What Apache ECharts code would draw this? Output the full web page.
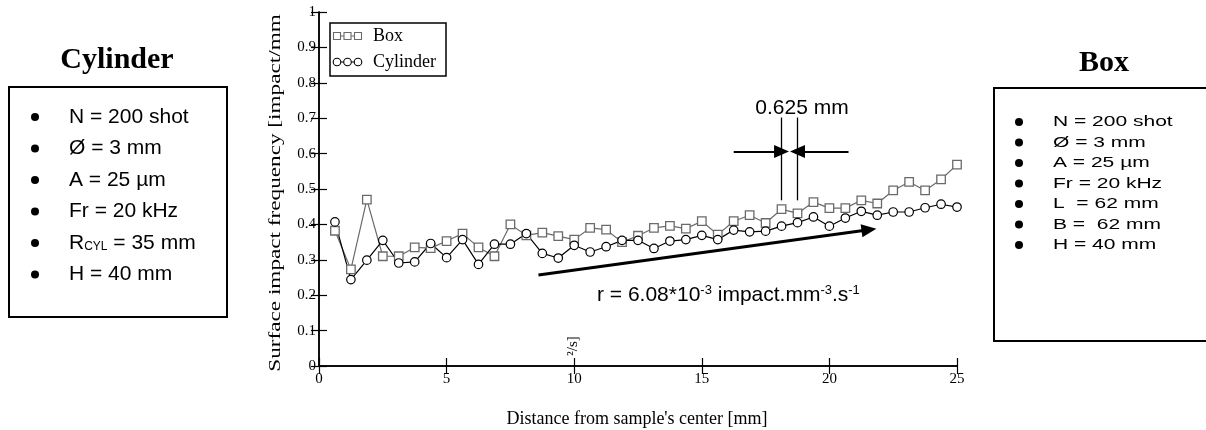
<!DOCTYPE html>
<html>
<head>
<meta charset="utf-8">
<script src="https://cdn.jsdelivr.net/npm/echarts@6/dist/echarts.min.js"></script>
<style>
  html, body { margin: 0; padding: 0; background: #fff; }
  #chart { width: 1206px; height: 430px; }
</style>
</head>
<body>
<div id="chart"></div>
<script>
// sample positions [mm], one every 0.625 mm
const distance = [0.625, 1.25, 1.875, 2.5, 3.125, 3.75, 4.375, 5, 5.625, 6.25,
  6.875, 7.5, 8.125, 8.75, 9.375, 10, 10.625, 11.25, 11.875, 12.5,
  13.125, 13.75, 14.375, 15, 15.625, 16.25, 16.875, 17.5, 18.125, 18.75,
  19.375, 20, 20.625, 21.25, 21.875, 22.5, 23.125, 23.75, 24.375, 25]

const boxFreq = [0.382, 0.273, 0.470, 0.310, 0.310, 0.335, 0.333, 0.353, 0.374, 0.335,
  0.310, 0.400, 0.369, 0.377, 0.367, 0.357, 0.390, 0.385, 0.350, 0.368,
  0.390, 0.396, 0.388, 0.409, 0.371, 0.409, 0.426, 0.404, 0.443, 0.431,
  0.463, 0.446, 0.446, 0.468, 0.459, 0.496, 0.520, 0.496, 0.527, 0.569]

const cylFreq = [0.407, 0.244, 0.299, 0.355, 0.291, 0.294, 0.346, 0.306, 0.357, 0.287,
  0.344, 0.344, 0.374, 0.318, 0.305, 0.341, 0.322, 0.337, 0.355, 0.355,
  0.332, 0.353, 0.357, 0.369, 0.357, 0.384, 0.379, 0.381, 0.395, 0.405,
  0.421, 0.395, 0.418, 0.437, 0.426, 0.435, 0.435, 0.447, 0.457, 0.449]

const xTicks = [0, 5, 10, 15, 20, 25]

// annotation geometry in data units
const trendArrow = [[8.6, 0.257], [21.55, 0.385]]
const gapLines = [18.125, 18.75]
const gapSpan = [0.468, 0.702]
const gapArrowY = 0.606
const gapArrowFrom = [16.25, 20.75]

const cylParams = ['N = 200 shot', 'Ø = 3 mm', 'A = 25 µm', 'Fr = 20 kHz', 'R{sub|CYL} = 35 mm', 'H = 40 mm']
const boxParams = ['N = 200 shot', 'Ø = 3 mm', 'A = 25 µm', 'Fr = 20 kHz', 'L  = 62 mm', 'B =  62 mm', 'H = 40 mm']

const serif = '"Liberation Serif", "Times New Roman", serif'
const sans = '"Liberation Sans", Arial, sans-serif'

const chart = echarts.init(document.getElementById('chart'))

function paramBlock(items, x0, y0, step, sy) {
  const out = []
  items.forEach((t, i) => {
    out.push({
      type: 'circle', shape: { cx: x0, cy: y0 + i * step, r: 4 },
      style: { fill: '#000' }, silent: true
    })
    out.push({
      type: 'text', x: x0 + 34, y: y0 + i * step, scaleY: sy, silent: true,
      style: {
        text: t, fill: '#000', font: '21px ' + sans,
        textAlign: 'left', textVerticalAlign: 'middle',
        rich: { sub: { fontSize: 12, fontFamily: sans, padding: [8, 0, 0, 0] } }
      }
    })
  })
  return out
}

const xAxisBase = {
  type: 'value', min: 0, max: 25, interval: 5,
  axisLine: { lineStyle: { color: '#000', width: 1.5 } },
  axisTick: { inside: true, length: 8, lineStyle: { color: '#000', width: 1.2 } },
  splitLine: { show: false }
}
const yAxisBase = {
  type: 'value', min: 0, max: 1, interval: 0.1,
  axisLine: { lineStyle: { color: '#000', width: 1.5 } },
  axisTick: { inside: true, length: 8, lineStyle: { color: '#000', width: 1.2 } },
  splitLine: { show: false }
}

const markLines = [
  [{ coord: trendArrow[0], lineStyle: { width: 3 } }, { coord: trendArrow[1] }],
  [{ coord: [gapArrowFrom[0], gapArrowY], lineStyle: { width: 2.2 } }, { coord: [gapLines[0], gapArrowY] }],
  [{ coord: [gapArrowFrom[1], gapArrowY], lineStyle: { width: 2.2 } }, { coord: [gapLines[1], gapArrowY] }],
  [{ coord: [gapLines[0], gapSpan[0]], symbol: 'none', lineStyle: { width: 1.3 } }, { coord: [gapLines[0], gapSpan[1]], symbol: 'none' }],
  [{ coord: [gapLines[1], gapSpan[0]], symbol: 'none', lineStyle: { width: 1.3 } }, { coord: [gapLines[1], gapSpan[1]], symbol: 'none' }]
]

const options = {
  animation: false,
  backgroundColor: '#fff',
  grid: { left: 319, right: 249, top: 12, bottom: 64 },
  xAxis: [
    Object.assign({}, xAxisBase, {
      position: 'bottom',
      axisLabel: {
        color: '#000', fontFamily: serif, fontSize: 15, margin: 6,
        customValues: xTicks
      }
    }),
    Object.assign({}, xAxisBase, { position: 'top', axisLabel: { show: false } })
  ],
  yAxis: [
    Object.assign({}, yAxisBase, {
      position: 'left',
      axisLabel: { color: '#000', fontFamily: serif, fontSize: 15, margin: 3 }
    }),
    Object.assign({}, yAxisBase, { position: 'right', axisLabel: { show: false } })
  ],
  series: [
    {
      name: 'Box', type: 'line',
      data: distance.map((d, i) => [d, boxFreq[i]]),
      symbol: 'rect', symbolSize: 8.5,
      itemStyle: { color: '#fff', borderColor: '#6a6a6a', borderWidth: 1.3 },
      lineStyle: { color: '#6a6a6a', width: 1.2 }
    },
    {
      name: 'Cylinder', type: 'line',
      data: distance.map((d, i) => [d, cylFreq[i]]),
      symbol: 'circle', symbolSize: 8.5,
      itemStyle: { color: '#fff', borderColor: '#000', borderWidth: 1.2 },
      lineStyle: { color: '#000', width: 1.2 }
    },
    {
      name: 'annotations', type: 'line', data: [],
      markLine: {
        silent: true, animation: false,
        symbol: ['none', 'triangle'], symbolSize: [13, 15],
        label: { show: false },
        lineStyle: { color: '#000', type: 'solid' },
        data: markLines
      }
    }
  ],
  graphic: [
    // legend
    { type: 'rect', shape: { x: 330, y: 23, width: 116, height: 53 }, style: { fill: '#fff', stroke: '#000', lineWidth: 1.5 }, z: 10 },
    { type: 'line', shape: { x1: 333, y1: 36, x2: 362, y2: 36 }, style: { stroke: '#6a6a6a', lineWidth: 1 }, z: 11 },
    { type: 'rect', shape: { x: 333.5, y: 32.5, width: 7, height: 7 }, style: { fill: '#fff', stroke: '#6a6a6a', lineWidth: 1.1 }, z: 12 },
    { type: 'rect', shape: { x: 344, y: 32.5, width: 7, height: 7 }, style: { fill: '#fff', stroke: '#6a6a6a', lineWidth: 1.1 }, z: 12 },
    { type: 'rect', shape: { x: 354.5, y: 32.5, width: 7, height: 7 }, style: { fill: '#fff', stroke: '#6a6a6a', lineWidth: 1.1 }, z: 12 },
    { type: 'text', x: 373, y: 36, z: 12, style: { text: 'Box', fill: '#000', font: '18px ' + serif, textAlign: 'left', textVerticalAlign: 'middle' } },
    { type: 'line', shape: { x1: 333, y1: 62, x2: 362, y2: 62 }, style: { stroke: '#000', lineWidth: 1 }, z: 11 },
    { type: 'circle', shape: { cx: 337, cy: 62, r: 3.8 }, style: { fill: '#fff', stroke: '#000', lineWidth: 1.1 }, z: 12 },
    { type: 'circle', shape: { cx: 347.5, cy: 62, r: 3.8 }, style: { fill: '#fff', stroke: '#000', lineWidth: 1.1 }, z: 12 },
    { type: 'circle', shape: { cx: 358, cy: 62, r: 3.8 }, style: { fill: '#fff', stroke: '#000', lineWidth: 1.1 }, z: 12 },
    { type: 'text', x: 373, y: 62, z: 12, style: { text: 'Cylinder', fill: '#000', font: '18px ' + serif, textAlign: 'left', textVerticalAlign: 'middle' } },

    // axis titles
    { type: 'text', x: 276, y: 193, rotation: Math.PI / 2, scaleX: 1.45,
      style: { text: 'Surface impact frequency [impact/mm', fill: '#000', font: '16px ' + serif, textAlign: 'center', textVerticalAlign: 'middle' } },
    { type: 'text', x: 573, y: 346, rotation: Math.PI / 2,
      style: { text: '²/s]', fill: '#000', font: '15px ' + serif, textAlign: 'center', textVerticalAlign: 'middle' } },
    { type: 'text', x: 637, y: 419,
      style: { text: "Distance from sample's center [mm]", fill: '#000', font: '18px ' + serif, textAlign: 'center', textVerticalAlign: 'middle' } },

    // annotation texts
    { type: 'text', x: 802, y: 108,
      style: { text: '0.625 mm', fill: '#000', font: '21px ' + sans, textAlign: 'center', textVerticalAlign: 'middle' } },
    { type: 'text', x: 597, y: 295,
      style: {
        text: 'r = 6.08*10{sup|-3} impact.mm{sup|-3}.s{sup|-1}', fill: '#000', font: '21px ' + sans,
        textAlign: 'left', textVerticalAlign: 'middle',
        rich: { sup: { fontSize: 13, fontFamily: sans, padding: [0, 0, 10, 0] } }
      } },

    // parameter boxes
    { type: 'text', x: 117, y: 60, style: { text: 'Cylinder', fill: '#000', font: 'bold 30px ' + serif, textAlign: 'center', textVerticalAlign: 'middle' } },
    { type: 'rect', shape: { x: 9, y: 87, width: 218, height: 230 }, style: { fill: 'none', stroke: '#000', lineWidth: 2 } },
    ...paramBlock(cylParams, 35, 117, 31.5, 1),
    { type: 'text', x: 1104, y: 63, style: { text: 'Box', fill: '#000', font: 'bold 30px ' + serif, textAlign: 'center', textVerticalAlign: 'middle' } },
    { type: 'rect', shape: { x: 994, y: 88, width: 240, height: 253 }, style: { fill: 'none', stroke: '#000', lineWidth: 2 } },
    ...paramBlock(boxParams, 1019, 122, 20.5, 0.7)
  ]
}

options && chart.setOption(options)
</script>
</body>
</html>
